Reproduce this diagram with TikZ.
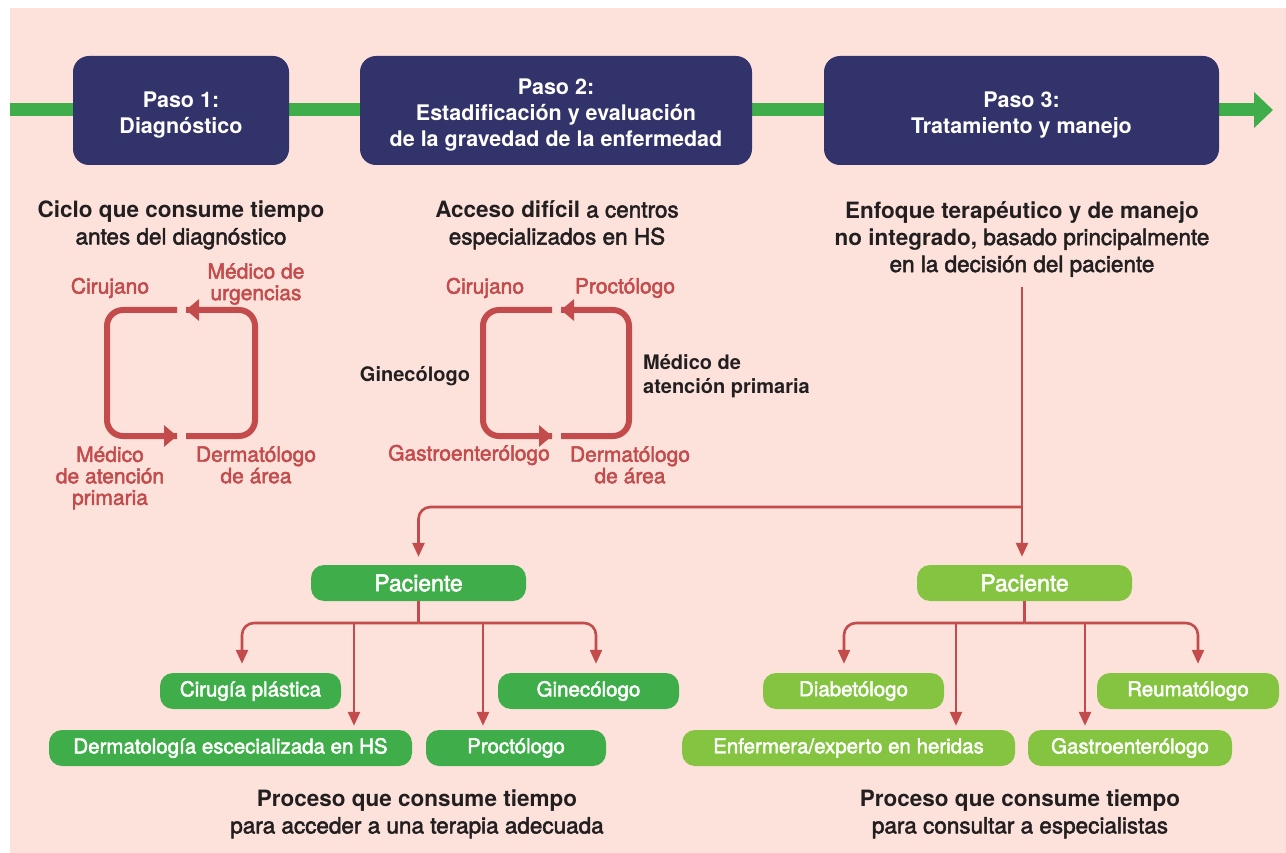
\documentclass[tikz,border=0pt]{standalone}
\usepackage{fontspec}
\setmainfont{TeX Gyre Heros}
\newfontfamily\medf[FakeBold=2.2]{TeX Gyre Heros}
\newcommand\mtxt[1]{{\medf\mdseries #1}}
\usetikzlibrary{arrows.meta,calc}
\definecolor{bgpink}{HTML}{FDE2DC}
\definecolor{navy}{HTML}{33336B}
\definecolor{dgreen}{HTML}{3FAE4A}
\definecolor{lgreen}{HTML}{85C441}
\definecolor{cred}{HTML}{C44B4B}
\definecolor{ink}{HTML}{231F20}
\begin{document}
\begin{tikzpicture}[x=1pt,y=-1pt,
  stepbox/.style={fill=navy, rounded corners=16pt, minimum height=109pt, inner sep=0pt},
  steptext/.style={text=white, font=\bfseries\fontsize{21.5}{26}\selectfont, align=center, inner sep=0pt},
  head/.style={text=ink, font=\bfseries\fontsize{22.5}{27}\selectfont, align=center, inner sep=0pt},
  rlab/.style={text=cred, font=\medf\fontsize{21}{21.5}\selectfont, align=center, inner sep=0pt},
  blab/.style={text=ink, font=\bfseries\fontsize{20}{24}\selectfont, inner sep=0pt},
  gbox/.style={fill=dgreen, rounded corners=13pt, text=white, minimum height=36pt,
    font=\medf\fontsize{20.5}{24}\selectfont, inner sep=0pt},
  lbox/.style={gbox, fill=lgreen},
  pbox/.style={font=\medf\fontsize{23}{26}\selectfont},
  cyc/.style={draw=cred, line width=6pt, rounded corners=16pt},
  cyca/.style={cyc, -{Triangle[length=13pt,width=21pt]}},
  tree/.style={draw=cred, line width=2.6pt, rounded corners=12pt},
  treea/.style={tree, -{Triangle[length=14pt,width=12pt]}},
  gline/.style={draw=dgreen, line width=13pt, -{Triangle[length=19pt,width=35pt]}}
]
\useasboundingbox (0,0) rectangle (1286,853);
\fill[white] (0,0) rectangle (1286,853);
\fill[bgpink] (10,8) rectangle (1286,853);

% main green timeline
\coordinate (gs) at (10,110);
\coordinate (ge) at (1273,110);
\draw[gline] (gs) -- (ge);

% step boxes
\node[stepbox, minimum width=216pt] (s1) at (181,110.5) {};
\node[stepbox, minimum width=392pt] (s2) at (556,110.5) {};
\node[stepbox, minimum width=395pt] (s3) at (1021.5,110.5) {};
\node[steptext] (s1t) at (181,115) {Paso 1:\\Diagnóstico};
\node[steptext] (s2t) at (556,115.5) {Paso 2:\\Estadificación y evaluación\\de la gravedad de la enfermedad};
\node[steptext] (s3t) at (1021.5,115) {Paso 3:\\Tratamiento y manejo};

% headings
\node[head] (h1) at (181,225) {Ciclo que consume tiempo\\\mtxt{antes del diagnóstico}};
\node[head] (h2) at (557,225) {Acceso difícil \mtxt{a centros}\\\mtxt{especializados en HS}};
\node[head] (h3) at (1022,239) {Enfoque terapéutico y de manejo\\no integrado, \mtxt{basado principalmente}\\\mtxt{en la decisión del paciente}};

% cycle 1
\draw[cyc] (177,310) -- (107,310) -- (107,436) -- (177,436);
\draw[cyca] (163,436) -- (177,436);
\draw[cyc] (186,436) -- (255,436) -- (255,310) -- (186,310);
\draw[cyca] (200,310) -- (186,310);
\node[rlab] (c1a) at (110,288) {Cirujano};
\node[rlab] (c1b) at (256,284) {Médico de\\urgencias};
\node[rlab] (c1c) at (110,478) {Médico\\de atención\\primaria};
\node[rlab] (c1d) at (256,465) {Dermatólogo\\de área};

% cycle 2
\draw[cyc] (552,310) -- (483,310) -- (483,436) -- (552,436);
\draw[cyca] (538,436) -- (552,436);
\draw[cyc] (561,436) -- (629,436) -- (629,310) -- (561,310);
\draw[cyca] (575,310) -- (561,310);
\node[rlab] (c2a) at (485,288) {Cirujano};
\node[rlab] (c2b) at (625,288) {Proctólogo};
\node[blab] (c2c) at (415,376) {Ginecólogo};
\node[blab, align=left, anchor=west] (c2d) at (643,376) {Médico de\\atención primaria};
\node[rlab] (c2e) at (469,455) {Gastroenterólogo};
\node[rlab] (c2f) at (630,465) {Dermatólogo\\de área};

% patient boxes
\node[gbox, pbox, minimum width=215pt] (pL) at (418.5,583) {Paciente};
\node[lbox, pbox, minimum width=215pt] (pR) at (1024.5,583) {Paciente};

% step 3 branching
\coordinate (t3) at (1022,287);
\draw[treea, shorten >=8pt] (t3) -- (t3 |- pR.north);
\draw[treea, shorten >=8pt] (1022,507) -| (pL.north);

% left children
\node[gbox, minimum width=181pt] (cp) at (250.5,691) {Cirugía plástica};
\node[gbox, minimum width=181pt] (gi) at (588.5,691) {Ginecólogo};
\node[gbox, minimum width=363pt] (de) at (230.5,748) {Dermatología escecializada en HS};
\node[gbox, minimum width=180pt] (pr) at (516,748) {Proctólogo};
\coordinate (jL) at (pL.south |- 0,623);
\draw[tree] (pL.south) -- (jL);
\draw[treea, shorten >=9pt] (jL) -| (242,0 |- cp.north);
\draw[treea, shorten >=9pt] (jL) -| (596,0 |- gi.north);
\draw[treea, shorten >=4pt] (354,623) -- (354,0 |- de.north);
\draw[treea, shorten >=4pt] (483,623) -- (483,0 |- pr.north);

% right children
\node[lbox, minimum width=181pt] (di) at (853.5,691) {Diabetólogo};
\node[lbox, minimum width=182pt] (re) at (1188,691) {Reumatólogo};
\node[lbox, minimum width=333pt] (en) at (848.5,748) {Enfermera/experto en heridas};
\node[lbox, minimum width=204pt] (ga) at (1130,748) {Gastroenterólogo};
\coordinate (jR) at (pR.south |- 0,623);
\draw[tree] (pR.south) -- (jR);
\draw[treea, shorten >=9pt] (jR) -| (844,0 |- di.north);
\draw[treea, shorten >=9pt] (jR) -| (1198,0 |- re.north);
\draw[treea, shorten >=4pt] (956,623) -- (956,0 |- en.north);
\draw[treea, shorten >=4pt] (1085,623) -- (1085,0 |- ga.north);

% bottom captions
\node[head] (b1) at (417,814) {Proceso que consume tiempo\\\mtxt{para acceder a una terapia adecuada}};
\node[head] (b2) at (1020,814) {Proceso que consume tiempo\\\mtxt{para consultar a especialistas}};
\end{tikzpicture}
\end{document}
